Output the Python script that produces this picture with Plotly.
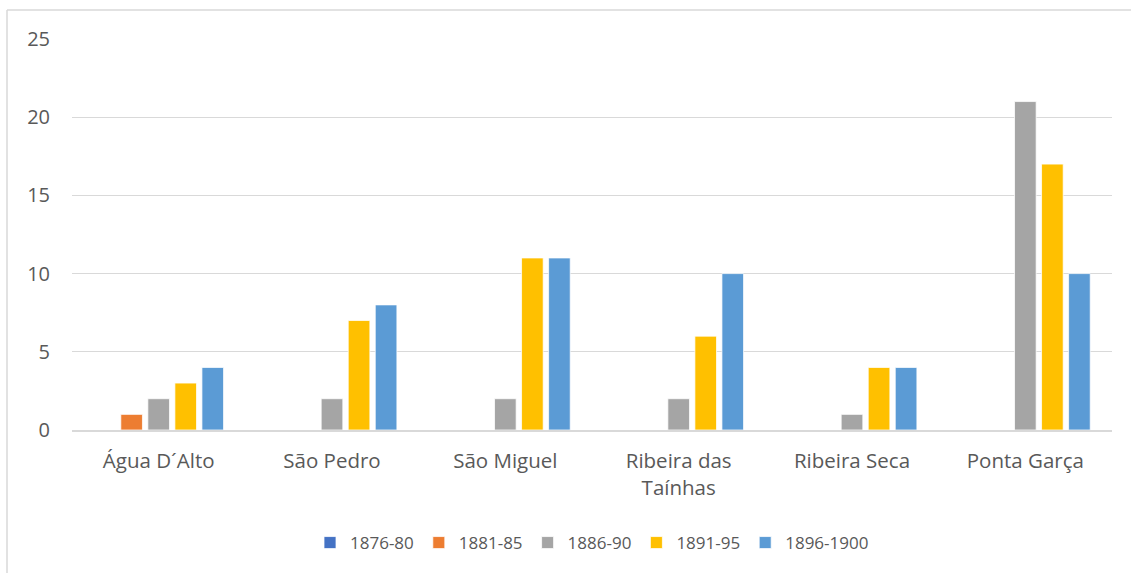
import plotly.graph_objects as go

categories = ["Água D´Alto", "São Pedro", "São Miguel", "Ribeira das<br>Taínhas", "Ribeira Seca", "Ponta Garça"]
series_names = ["1876-80", "1881-85", "1886-90", "1891-95", "1896-1900"]
s1876 = [0, 0, 0, 0, 0, 0]
s1881 = [1, 0, 0, 0, 0, 0]
s1886 = [2, 2, 2, 2, 1, 21]
s1891 = [3, 7, 11, 6, 4, 17]
s1896 = [4, 8, 11, 10, 4, 10]
series_values = [s1876, s1881, s1886, s1891, s1896]
colors = ["#4472C4", "#ED7D31", "#A5A5A5", "#FFC000", "#5B9BD5"]
y_ticks = [0, 5, 10, 15, 20, 25]

fig = go.Figure()
for name, vals, col in zip(series_names, series_values, colors):
    fig.add_trace(go.Bar(x=categories, y=vals, name=name,
                         marker=dict(color=col, line=dict(color="white", width=0.75))))

W, H = 1131, 573
L, R, T, B = 72, 19, 39, 143
pw, ph = W - L - R, H - T - B

fig.update_layout(
    width=W, height=H,
    margin=dict(l=L, r=R, t=T, b=B),
    paper_bgcolor="white", plot_bgcolor="white",
    barmode="group", bargap=0.22, bargroupgap=0.2,
    font=dict(family="Open Sans", color="#595959", size=20),
    legend=dict(orientation="h", x=0.5, xanchor="center", y=(430 - 543) / ph, yanchor="middle",
                font=dict(size=17, color="#595959"), traceorder="normal", itemwidth=30),
    showlegend=True,
)
fig.update_yaxes(range=[0, 25], tickvals=y_ticks, showgrid=True, gridcolor="#D9D9D9", gridwidth=1,
                 zeroline=False, showline=False, ticklabelstandoff=21, tickfont=dict(size=20))
fig.update_xaxes(showline=True, linecolor="#D9D9D9", linewidth=1.5, showgrid=False,
                 ticklabelstandoff=12, tickfont=dict(size=20.5))

# chart border (left and top edges visible)
x_left = (7 - L) / pw
y_top = (H - B - 10) / ph
fig.add_shape(type="line", xref="paper", yref="paper", x0=x_left, x1=x_left, y0=y_top, y1=-B / ph - 0.1,
              line=dict(color="#D9D9D9", width=1.5))
fig.add_shape(type="line", xref="paper", yref="paper", x0=x_left, x1=(W - L) / pw + 0.1, y0=y_top, y1=y_top,
              line=dict(color="#D9D9D9", width=1.5))

fig.write_html("out.html", config={"displayModeBar": False},
               post_script="document.body.style.margin='0';document.body.style.overflow='hidden';")
